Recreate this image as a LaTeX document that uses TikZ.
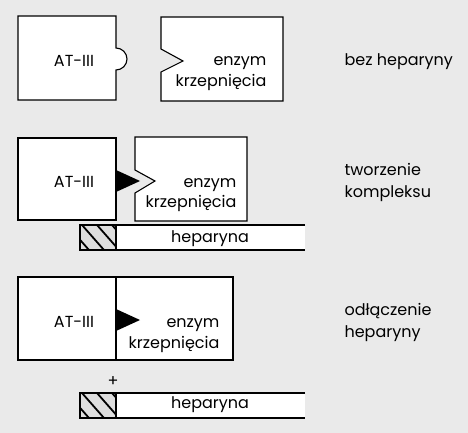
\documentclass[tikz,border=0pt]{standalone}
\usepackage{fontspec}
\setmainfont{Poppins}
\definecolor{tlo}{RGB}{234,234,234}
\definecolor{kreska}{RGB}{222,222,222}
\begin{document}
\begin{tikzpicture}[x=1pt,y=-1pt,line width=1.1pt]

      \fill[tlo] (0,0) rectangle (468,433);
      \useasboundingbox (0,0) rectangle (468,433);

      % bez heparyny
      \draw[fill=white] (18,16) -- (116,16) -- (116,48) arc(-90:90:11)
        -- (116,100) -- (18,100) -- cycle;
      \draw[fill=white] (161,17) -- (283,17) -- (283,101) -- (161,101)
        -- (161,72) -- (183,61) -- (161,49) -- cycle;

      % tworzenie kompleksu
      \draw[fill=white] (18,138) rectangle (116,220);
      \draw[fill=white] (135,137) -- (247,137) -- (247,221) -- (135,221)
        -- (135,193) -- (155,181) -- (135,170) -- cycle;
      \fill (116,170) -- (140,181) -- (116,192) -- cycle;
      \fill[white] (80,225) rectangle (305,250);
      \draw (305,225) -- (80,225) -- (80,250) -- (305,250);
      \fill[kreska] (80,225) rectangle (116,250);
      \begin{scope}
        \clip (80,225) rectangle (116,250);
        \foreach \c in {-28,-13,2,17,32}
          \draw[line width=1.8pt] (80+\c,225) -- +(22,25);
      \end{scope}
      \draw (80,225) rectangle (116,250);

      % odlaczenie heparyny
      \draw[fill=white] (18,277) rectangle (233,360);
      \draw (116,277) -- (116,360);
      \fill (116,309) -- (140,320) -- (116,331) -- cycle;
      \fill[white] (80,393) rectangle (305,418);
      \draw (305,393) -- (80,393) -- (80,418) -- (305,418);
      \fill[kreska] (80,393) rectangle (116,418);
      \begin{scope}
        \clip (80,393) rectangle (116,418);
        \foreach \c in {-28,-13,2,17,32}
          \draw[line width=1.8pt] (80+\c,393) -- +(22,25);
      \end{scope}
      \draw (80,393) rectangle (116,418);

      \begin{scope}[every node/.style={inner sep=0pt, anchor=base, font=\fontsize{16}{21}\selectfont}]
        \node (at1)  at (74,67)  {AT-III};
        \node (at2)  at (74,187) {AT-III};
        \node (at3)  at (74,327) {AT-III};
        \node[anchor=base east] (enz1a) at (267,66)  {enzym};
        \node[anchor=base east] (enz1b) at (267,87)  {krzepnięcia};
        \node[anchor=base east] (enz2a) at (237,187) {enzym};
        \node[anchor=base east] (enz2b) at (237,207) {krzepnięcia};
        \node[anchor=base east] (enz3a) at (220,327) {enzym};
        \node[anchor=base east] (enz3b) at (220,348) {krzepnięcia};
        \node (hep2) at (210,242) {heparyna};
        \node (hep3) at (210,408) {heparyna};
        \node[anchor=center] (plus) at (113,382) {+};
        \node[anchor=base west] (opis1)  at (344,66)  {bez heparyny};
        \node[anchor=base west] (opis2a) at (344,175) {tworzenie};
        \node[anchor=base west] (opis2b) at (344,197) {kompleksu};
        \node[anchor=base west] (opis3a) at (344,315) {odłączenie};
        \node[anchor=base west] (opis3b) at (344,337) {heparyny};
      \end{scope}

    \end{tikzpicture}
\end{document}
